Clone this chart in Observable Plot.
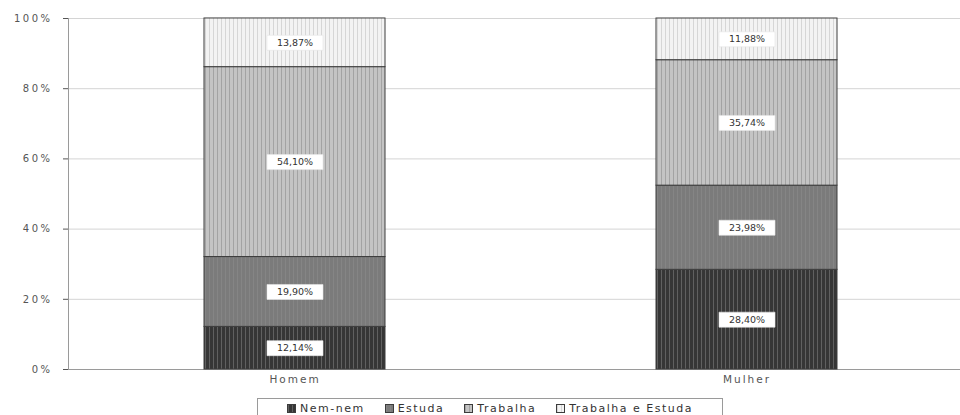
<!DOCTYPE html>
<html>
<head>
<meta charset="utf-8">
<script src="https://cdn.jsdelivr.net/npm/d3@7"></script>
<script src="https://cdn.jsdelivr.net/npm/@observablehq/plot@0.6"></script>
<style>
  html, body { margin: 0; padding: 0; background: #fff; }
  body { width: 960px; height: 415px; overflow: hidden; font-family: "DejaVu Sans", sans-serif; }
  #legend {
    position: absolute; left: 257px; top: 398px; width: 466px; height: 20px;
    border: 1px solid #9a9a9a; box-sizing: border-box;
    display: flex; align-items: center; justify-content: center; gap: 20px;
    font-size: 11px; letter-spacing: 1.5px; color: #333;
  }
  #legend span.item { display: flex; align-items: center; gap: 4px; }
  #legend svg { display: block; }
</style>
</head>
<body>
<div id="chart"></div>
<div id="legend"></div>
<script>
// Situação de ocupação por sexo (% de cada grupo)
const categorias = ["Homem", "Mulher"];
const series = ["Nem-nem", "Estuda", "Trabalha", "Trabalha e Estuda"];
const valoresHomem = [12.14, 19.90, 54.10, 13.87];
const valoresMulher = [28.40, 23.98, 35.74, 11.88];
const yTicks = [0, 20, 40, 60, 80, 100];

// Hatched fills for each series: base colour + stripe colour
const padroes = [
  {id: "p-nem", base: "#363636", stripe: "#606060"},
  {id: "p-est", base: "#7b7b7b", stripe: "#858585"},
  {id: "p-trab", base: "#c4c4c4", stripe: "#a3a3a3"},
  {id: "p-te", base: "#f3f3f3", stripe: "#d6d6d6"}
];

const dados = [];
categorias.forEach((c, ci) => {
  const vals = ci === 0 ? valoresHomem : valoresMulher;
  series.forEach((s, si) => dados.push({categoria: c, serie: s, valor: vals[si]}));
});

const fmt = v => v.toFixed(2).replace(".", ",") + "%";

// Rectangular symbol used as the white box behind each value label
const caixa = {draw(ctx) { ctx.rect(-28, -7.5, 56, 15); }};

const chart = Plot.plot({
  width: 960,
  height: 397,
  marginLeft: 68,
  marginRight: 0,
  marginTop: 18,
  marginBottom: 28,
  style: {fontFamily: "DejaVu Sans", fontSize: "10px", color: "#555", background: "#fff"},
  x: {domain: categorias, range: [68, 972], paddingInner: 0.6, paddingOuter: 0.3,
      label: null, tickSize: 0, tickPadding: 6},
  y: {domain: [0, 100], ticks: yTicks, tickFormat: d => d + "%", label: null,
      tickSize: 5, tickPadding: 11},
  color: {domain: series, range: padroes.map(p => `url(#${p.id})`)},
  marks: [
    Plot.ruleY(yTicks.slice(1), {stroke: "#d4d4d4", strokeWidth: 1}),
    Plot.ruleY([0], {stroke: "#9a9a9a"}),
    Plot.barY(dados, {x: "categoria", y: "valor", fill: "serie", stroke: "#3c3c3c", strokeWidth: 1}),
    Plot.dot(dados, Plot.stackY({x: "categoria", y: "valor", symbol: caixa, r: 5,
      fill: "#fff", stroke: "#e6e6e6", strokeWidth: 0.6})),
    Plot.text(dados, Plot.stackY({x: "categoria", y: "valor", text: d => fmt(d.valor),
      fill: "#333", fontSize: 9.5, letterSpacing: 2}))
  ]
});

// Pattern definitions for the hatched fills
const svg = d3.select(chart);
const defs = svg.insert("defs", ":first-child");
padroes.forEach(p => {
  const pat = defs.append("pattern").attr("id", p.id)
    .attr("patternUnits", "userSpaceOnUse").attr("width", 4).attr("height", 4);
  pat.append("rect").attr("width", 4).attr("height", 4).attr("fill", p.base);
  pat.append("rect").attr("x", 1).attr("width", 1).attr("height", 4).attr("fill", p.stripe);
});
// y axis line and letter spacing for tick labels
svg.selectAll("g[aria-label='y-axis'] text, g[aria-label='y-axis tick label'] text").attr("letter-spacing", "2.5px").attr("font-size", "10px");
svg.selectAll("g[aria-label='x-axis'] text, g[aria-label='x-axis tick label'] text").attr("letter-spacing", "2px").attr("font-size", "10.5px");
svg.append("line").attr("x1", 68.5).attr("x2", 68.5).attr("y1", 18).attr("y2", 369)
  .attr("stroke", "#9a9a9a");
d3.select("#chart").node().appendChild(chart);

// Legend
const legenda = d3.select("#legend");
series.forEach((s, i) => {
  const item = legenda.append("span").attr("class", "item");
  const sw = item.append("svg").attr("width", 9).attr("height", 9);
  sw.append("rect").attr("x", 0.5).attr("y", 0.5).attr("width", 8).attr("height", 8)
    .attr("fill", `url(#${padroes[i].id})`).attr("stroke", "#3c3c3c");
  item.append("span").text(s);
});
</script>
</body>
</html>
